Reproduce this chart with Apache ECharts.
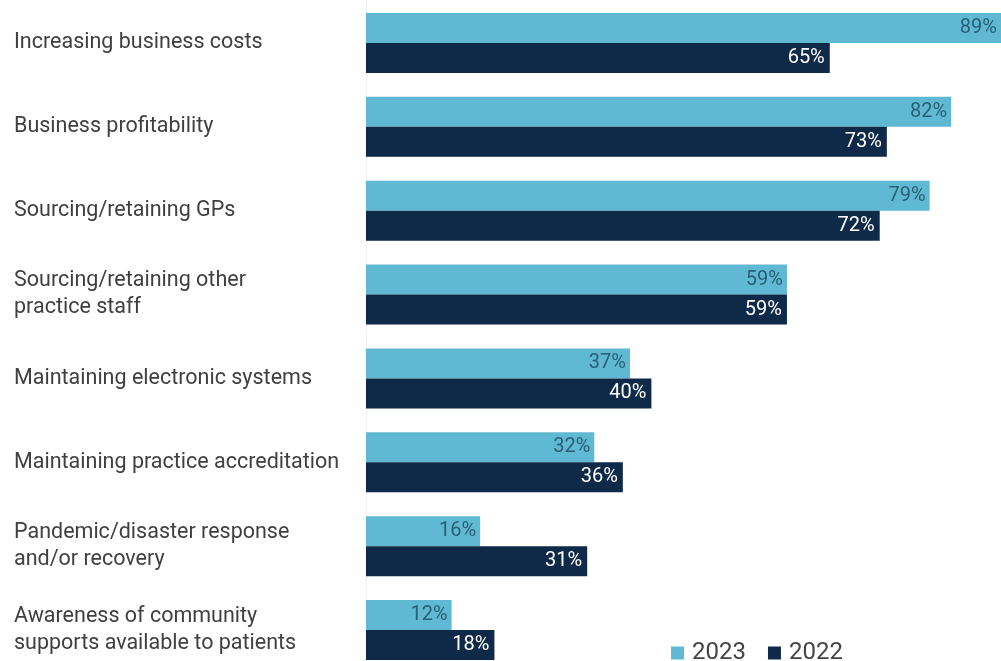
<!DOCTYPE html>
<html><head><meta charset="utf-8">
<script src="https://cdn.jsdelivr.net/npm/echarts@6/dist/echarts.min.js"></script>
<style>html,body{margin:0;padding:0;background:#fff;overflow:hidden}#c{width:1001px;height:672px}</style>
</head><body><div id="c"></div>
<script>
const categories = [
  "Increasing business costs",
  "Business profitability",
  "Sourcing/retaining GPs",
  "Sourcing/retaining other\npractice staff",
  "Maintaining electronic systems",
  "Maintaining practice accreditation",
  "Pandemic/disaster response\nand/or recovery",
  "Awareness of community\nsupports available to patients"
];
const values2023 = [89, 82, 79, 59, 37, 32, 16, 12];
const values2022 = [65, 73, 72, 59, 40, 36, 31, 18];
const seriesNames = ["2023", "2022"];

const chart = echarts.init(document.getElementById('c'), null, {renderer: 'canvas'});
const FONT = 'Roboto, "Noto Sans", sans-serif';
chart.setOption({
  animation: false,
  backgroundColor: '#ffffff',
  grid: {left: 366, right: 0, top: 1, bottom: 0, containLabel: false},
  legend: {
    data: seriesNames,
    left: 666, top: 636,
    itemWidth: 13, itemHeight: 13, itemGap: 22,
    icon: 'rect',
    textStyle: {fontFamily: FONT, fontSize: 24, color: '#444', padding: [0,0,0,3]}
  },
  xAxis: {
    type: 'value', min: 0, max: 89,
    show: false
  },
  yAxis: {
    type: 'category', data: categories, inverse: true,
    axisLine: {show: true, lineStyle: {color: '#f2f2f2', width: 1}},
    axisTick: {show: false},
    axisLabel: {
      align: 'left', margin: 352, padding: [5, 0, 0, 0],
      fontFamily: FONT, fontSize: 21.5, lineHeight: 27, color: '#404040'
    }
  },
  series: [
    {
      name: seriesNames[0], type: 'bar', data: values2023,
      barWidth: 30, barGap: '0%',
      itemStyle: {color: '#60b9d2'},
      label: {show: true, position: 'insideRight', formatter: '{c}%', distance: 4,
        fontFamily: FONT, fontSize: 20, color: '#2a6075'}
    },
    {
      name: seriesNames[1], type: 'bar', data: values2022,
      barWidth: 30, barGap: '0%',
      itemStyle: {color: '#0e2a48'},
      label: {show: true, position: 'insideRight', formatter: '{c}%', distance: 5,
        fontFamily: FONT, fontSize: 20, color: '#ffffff'}
    }
  ]
});
</script></body></html>
